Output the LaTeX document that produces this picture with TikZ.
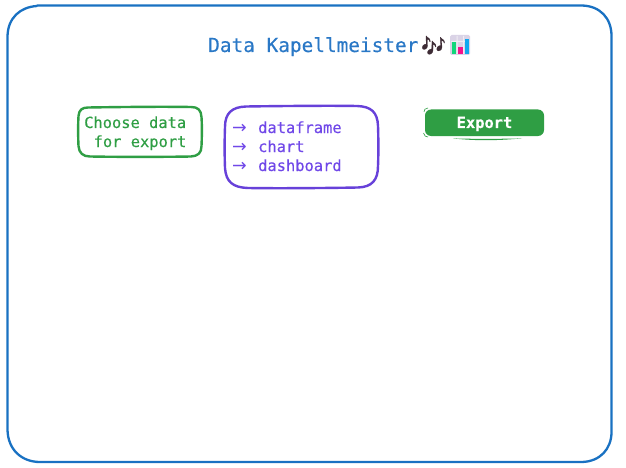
\documentclass[tikz,border=0pt]{standalone}
\usepackage{fontspec}
\setmainfont[FakeBold=0.35]{DejaVu Sans Mono}
\newfontfamily\semimono[FakeBold=0.35]{DejaVu Sans Mono}
\newfontfamily\arrowfont{DejaVu Sans}
\newfontfamily\emojifont[FakeBold=1.2]{Noto Emoji}
\definecolor{frameblue}{HTML}{1971C2}
\definecolor{titleblue}{HTML}{2A78C6}
\definecolor{exgreen}{HTML}{2F9E44}
\definecolor{expurple}{HTML}{6741D9}
\definecolor{txpurple}{HTML}{7048E8}
\definecolor{notedark}{HTML}{3E2C35}
\definecolor{chartbg}{HTML}{DAD3E6}
\definecolor{chartgrid}{HTML}{F0EDF3}
\definecolor{chartgreen}{HTML}{12D67A}
\definecolor{chartpink}{HTML}{F5128C}
\definecolor{chartblue}{HTML}{10A8F0}
\tikzset{
  sketchline/.style={line cap=round,line join=round},
  label16/.style={inner sep=0pt,anchor=base west,font=\fontsize{15.4pt}{19pt}\selectfont\semimono},
}
\newcommand{\arrowitem}[1]{\makebox[26pt][l]{\raisebox{-0.6pt}{\arrowfont\fontsize{17.5pt}{19pt}\selectfont →}}#1}
\begin{document}
\begin{tikzpicture}[x=1pt,y=-1pt]
\useasboundingbox (0,0) rectangle (626,468);
% outer frame
\draw[sketchline,frameblue,line width=2.3pt] (37,6) .. controls (20,7) and (8,18) .. (7.5,36)
  -- (7.5,430) .. controls (8,450) and (22,462) .. (40,462)
  -- (582,462) .. controls (600,461.5) and (611.5,449) .. (611.5,432)
  -- (611.5,36) .. controls (611.5,18) and (600,6) .. (582,5.5) -- (37,5.5);
% title
\node[inner sep=0pt,anchor=base west,text=titleblue,font=\fontsize{19.4pt}{23pt}\selectfont\semimono] (title) at (208,52) {Data Kapellmeister};
\node[inner sep=0pt,anchor=base west,text=notedark,font=\fontsize{20pt}{24pt}\selectfont\emojifont] (notes) at (420.5,52) {🎶};
% chart icon
\fill[rounded corners=1.5pt,fill=chartbg] (450,35) rectangle (470,55);
\fill[chartgrid] (456.5,36) rectangle (457.5,54) (463,36) rectangle (464,54) (451,41) rectangle (469,42);
\fill[chartgreen] (451.5,42) rectangle (456,54);
\fill[chartpink] (458,47) rectangle (462.5,54);
\fill[chartblue] (464.5,39) rectangle (469,54);
% green box
\draw[sketchline,exgreen,line width=2.4pt] (88,107.5) .. controls (82,107.5) and (79,110) .. (78.5,116)
  .. controls (78,125) and (78,135) .. (78.5,146) .. controls (79,153) and (83,156.5) .. (90,156.5)
  .. controls (120,157) and (160,157) .. (191,156.5) .. controls (198,156) and (201.5,153) .. (201.5,146)
  .. controls (202,135) and (202,125) .. (201.5,117) .. controls (201,110) and (198,107) .. (191,107)
  .. controls (160,106.5) and (120,107) .. (88,107.5);
\node[label16,text=exgreen] (choose) at (84,128) {Choose data};
\node[label16,text=exgreen] (forexp) at (93.5,147) {for export};
% purple box
\draw[sketchline,expurple,line width=2.4pt] (246,106.5) .. controls (232,107) and (225,113) .. (225,127)
  .. controls (224.5,140) and (224.5,155) .. (225,168) .. controls (226,182) and (233,187.5) .. (248,188)
  .. controls (280,188.5) and (330,188) .. (358,187.5) .. controls (372,187) and (378,180) .. (378,166)
  .. controls (378.5,155) and (378.5,140) .. (378,126) .. controls (377.5,112) and (371,106.5) .. (357,106)
  .. controls (330,105.5) and (280,106) .. (246,106.5);
\node[label16,text=txpurple] (l1) at (232,133) {\arrowitem{dataframe}};
\node[label16,text=txpurple] (l2) at (232,152) {\arrowitem{chart}};
\node[label16,text=txpurple] (l3) at (232,171) {\arrowitem{dashboard}};
% export button
\fill[exgreen,rounded corners=6pt] (425,109.5) rectangle (544,136);
\draw[exgreen,line width=0.6pt] (428,108) .. controls (425,108) and (424,110) .. (424,112);
\draw[exgreen,line width=0.6pt] (423.5,133) .. controls (424,136) and (426,137) .. (428,137);
\fill[exgreen] (453,138.4) .. controls (475,139) and (495,139) .. (522,138.4) .. controls (495,140.8) and (475,140.8) .. (453,138.4);
\node[inner sep=0pt,anchor=base west,text=white,font=\fontsize{15.4pt}{19pt}\selectfont\bfseries] (export) at (456.5,128) {Export};
\end{tikzpicture}
\end{document}
